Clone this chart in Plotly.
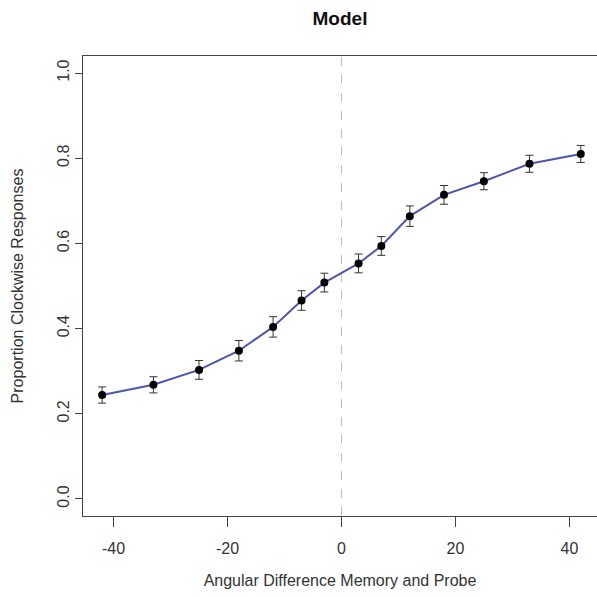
import plotly.graph_objects as go

angles = [-42, -33, -25, -18, -12, -7, -3, 3, 7, 12, 18, 25, 33, 42]
proportion = [0.244, 0.268, 0.303, 0.348, 0.404, 0.466, 0.508, 0.553, 0.594, 0.664, 0.714, 0.746, 0.787, 0.810]
errors = [0.019, 0.019, 0.022, 0.024, 0.024, 0.023, 0.022, 0.022, 0.022, 0.024, 0.022, 0.020, 0.020, 0.020]
x_ticks = [-40, -20, 0, 20, 40]
x_tick_labels = ["-40", "-20", "0", "20", "40"]
y_ticks = [0.0, 0.2, 0.4, 0.6, 0.8, 1.0]

font_family = "Liberation Sans, Arial, sans-serif"

fig = go.Figure()
fig.add_trace(go.Scatter(
    x=angles, y=proportion, mode="lines",
    line=dict(color="#4d55b0", width=2), hoverinfo="skip", showlegend=False))
fig.add_trace(go.Scatter(
    x=angles, y=proportion, mode="markers",
    marker=dict(color="black", size=8),
    error_y=dict(type="data", array=errors, visible=True, color="#333333", thickness=1, width=4),
    showlegend=False))

fig.add_shape(type="line", x0=0, x1=0, xref="x", y0=0, y1=1, yref="paper",
              line=dict(color="#bbbbbb", width=1, dash="dash"), layer="below")

fig.update_layout(
    width=597, height=597,
    margin=dict(l=83, r=0, t=56, b=81),
    paper_bgcolor="white", plot_bgcolor="white",
    font=dict(family=font_family, size=16, color="#333333"),
    title=dict(text="<b>Model</b>", x=0.5, xref="paper", y=1 - 18 / 597, yanchor="middle",
               font=dict(size=19, color="#111111")),
    xaxis=dict(range=[-45.36, 44.85], tickvals=x_ticks, ticktext=x_tick_labels,
               ticks="outside", ticklen=10, ticklabelstandoff=8,
               tickcolor="#444444", showline=True, linecolor="#444444", linewidth=1,
               mirror=True, showgrid=False, zeroline=False,
               title=dict(text="Angular Difference Memory and Probe", standoff=18,
                          font=dict(size=16))),
    yaxis=dict(range=[-0.04, 1.04], tickvals=y_ticks, tickformat=".1f", ticks="outside",
               ticklen=7, ticklabelstandoff=0, tickcolor="#444444", showline=True,
               linecolor="#444444", linewidth=1, showgrid=False, zeroline=False,
               tickangle=-90,
               title=dict(text="Proportion Clockwise Responses", standoff=26,
                          font=dict(size=16))),
)

fig.write_html("out.html")
